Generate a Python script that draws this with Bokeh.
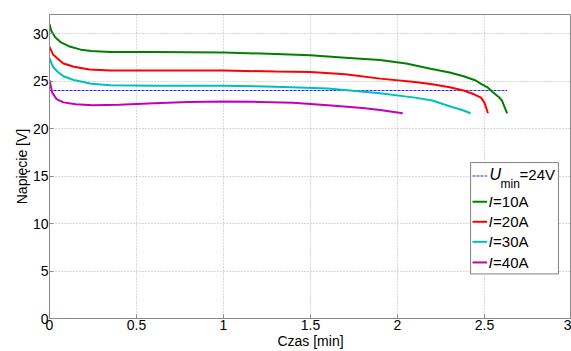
from bokeh.plotting import figure
from bokeh.models import Range1d, FixedTicker, Label, BoxAnnotation, NumeralTickFormatter
from bokeh.embed import file_html
from bokeh.resources import INLINE

# ---------------- data ----------------
t_10A = [0, 0.01, 0.033, 0.063, 0.12, 0.18, 0.24, 0.35, 0.6, 1.0, 1.3, 1.5, 1.7, 1.9,
         2.05, 2.19, 2.3, 2.38, 2.45, 2.48, 2.52, 2.55, 2.58, 2.6, 2.63]
v_10A = [31.0, 30.3, 29.6, 29.1, 28.6, 28.3, 28.15, 28.05, 28.05, 28.0, 27.85, 27.7, 27.45, 27.2,
         26.85, 26.3, 25.9, 25.5, 25.05, 24.7, 24.3, 23.8, 23.35, 22.95, 21.6]

t_20A = [0, 0.02, 0.044, 0.08, 0.14, 0.23, 0.35, 0.6, 1.0, 1.3, 1.5, 1.7, 1.9, 2.1, 2.2,
         2.3, 2.38, 2.44, 2.48, 2.5, 2.52]
v_20A = [28.6, 27.8, 27.4, 26.85, 26.5, 26.2, 26.1, 26.1, 26.1, 26.0, 25.95, 25.7, 25.25, 24.9, 24.65,
         24.35, 24.0, 23.6, 23.25, 22.7, 21.6]

t_30A = [0, 0.02, 0.045, 0.08, 0.14, 0.24, 0.35, 0.6, 1.0, 1.3, 1.6, 1.9, 2.1, 2.2, 2.29, 2.38, 2.42]
v_30A = [27.4, 26.5, 26.0, 25.5, 25.1, 24.7, 24.55, 24.5, 24.5, 24.4, 24.2, 23.7, 23.25, 22.95, 22.4, 21.9, 21.6]

t_40A = [0, 0.015, 0.04, 0.08, 0.15, 0.25, 0.4, 0.6, 0.8, 1.0, 1.2, 1.4, 1.6, 1.8, 1.9, 2.03]
v_40A = [25.1, 23.8, 23.1, 22.75, 22.55, 22.45, 22.5, 22.65, 22.8, 22.85, 22.8, 22.7, 22.45, 22.15, 21.95, 21.6]

t_umin = [0, 2.63]
v_umin = [24, 24]

series_labels = ["=10A", "=20A", "=30A", "=40A"]
series_colors = ["#008000", "#ff0000", "#00bfbf", "#bf00bf"]

x_ticks = [0, 0.5, 1, 1.5, 2, 2.5, 3]
y_ticks = [0, 5, 10, 15, 20, 25, 30]

FONT = "Liberation Sans"
GRID = "#b0b0b0"
AXIS = "#8a8a8a"

p = figure(width=571, height=351, output_backend="svg", toolbar_location=None,
           x_range=Range1d(0, 3), y_range=Range1d(0, 32),
           min_border_left=49, min_border_right=0, min_border_top=14, min_border_bottom=30,
           x_axis_label="Czas [min]", y_axis_label="Napięcie [V]")

p.outline_line_color = AXIS
p.outline_line_width = 1
p.background_fill_color = "white"

for ax in (p.xaxis[0], p.yaxis[0]):
    ax.axis_line_color = AXIS
    ax.major_tick_line_color = AXIS
    ax.major_tick_in = 4
    ax.major_tick_out = 0
    ax.minor_tick_line_color = None
    ax.major_label_text_font = FONT
    ax.major_label_text_font_size = "14px"
    ax.major_label_text_color = "black"
    ax.axis_label_text_font = FONT
    ax.axis_label_text_font_size = "14px"
    ax.axis_label_text_font_style = "normal"
    ax.axis_label_text_color = "black"
    ax.major_label_standoff = 1
    ax.axis_label_standoff = 0

p.xaxis.ticker = FixedTicker(ticks=x_ticks)
p.yaxis.ticker = FixedTicker(ticks=y_ticks)
p.xaxis.formatter = NumeralTickFormatter(format="0.[0]")

for g in (p.xgrid[0], p.ygrid[0]):
    g.grid_line_color = GRID
    g.grid_line_dash = "1 2"
    g.grid_line_width = 1

# Umin reference line
p.line(t_umin, v_umin, line_color="#2a2aff", line_width=1.2, line_dash="3 1")

for t, v, c in zip([t_10A, t_20A, t_30A, t_40A], [v_10A, v_20A, v_30A, v_40A], series_colors):
    p.line(t, v, line_color=c, line_width=2)

# ---------------- legend (layout) ----------------
leg_left, leg_right, leg_top, leg_bottom = 2.42, 2.925, 16.41, 4.69
p.add_layout(BoxAnnotation(left=leg_left, right=leg_right, top=leg_top, bottom=leg_bottom,
                           fill_color="white", fill_alpha=1.0, line_color="#808080",
                           line_width=1, line_alpha=1.0))
row_y = [12.29, 10.18, 8.07, 5.90]
umin_row = 15.2
s0, s1 = 2.431, 2.515

p.segment(x0=[s0], y0=[umin_row - 0.2], x1=[s1], y1=[umin_row - 0.2],
          line_color="#2a2aff", line_width=1.2, line_dash="3 1", level="overlay")
p.segment(x0=[s0] * 4, y0=row_y, x1=[s1] * 4, y1=row_y,
          line_color=series_colors, line_width=2, level="overlay")

def lab(text, y, xoff, size="15px", style="normal"):
    p.add_layout(Label(x=leg_left, y=y, x_offset=xoff, text=text, text_font=FONT,
                       text_font_size=size, text_font_style=style, text_color="black",
                       text_baseline="middle", text_align="left"))

lab("U", umin_row, 19, size="16px", style="italic")
lab("min", umin_row - 1.0, 30, size="12px")
lab("=24V", umin_row, 49)
for y, txt in zip(row_y, series_labels):
    lab("I", y, 18, style="italic")
    lab(txt, y, 22.5)

open("out.html", "w").write(file_html(p, INLINE))
